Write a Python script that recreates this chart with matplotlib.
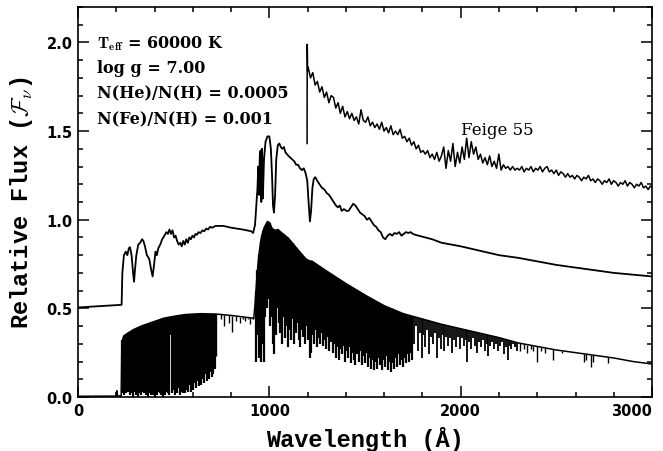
import numpy as np
import matplotlib.pyplot as plt
from matplotlib.ticker import MultipleLocator

# model spectrum continuum (lower curve)
model_wl = [0, 195, 200, 203, 206, 226, 229, 232, 240, 260,
            290, 330, 370, 410, 450, 500, 560, 640, 720, 800,
            860, 912, 918, 925, 935, 945, 955, 965, 975, 990,
            1000, 1015, 1030, 1045, 1060, 1100, 1150, 1190, 1205, 1225,
            1245, 1300, 1400, 1500, 1600, 1700, 1800, 1900, 2000, 2100,
            2200, 2300, 2400, 2500, 2600, 2700, 2800, 2900, 3000]
model_flux = [0.004, 0.005, 0.006, 0.035, 0.006, 0.007, 0.28, 0.32, 0.345, 0.36,
              0.38, 0.40, 0.415, 0.43, 0.445, 0.455, 0.465, 0.47, 0.468, 0.46,
              0.452, 0.445, 0.44, 0.52, 0.68, 0.80, 0.88, 0.93, 0.96, 0.99,
              0.985, 0.95, 0.94, 0.945, 0.93, 0.895, 0.83, 0.78, 0.77, 0.765,
              0.75, 0.71, 0.64, 0.575, 0.515, 0.47, 0.44, 0.41, 0.385, 0.36,
              0.335, 0.305, 0.285, 0.265, 0.25, 0.235, 0.22, 0.20, 0.186]

# absorption lines of the model: wavelength and flux at line bottom
forest1_wl = np.arange(232, 720, 7)
forest1_bottom = [0.02, 0.01, 0.20, 0.02, 0.03, 0.24, 0.01, 0.02, 0.00, 0.03,
                  0.01, 0.02, 0.00, 0.02, 0.01, 0.03, 0.02, 0.30, 0.01, 0.00,
                  0.02, 0.01, 0.03, 0.01, 0.00, 0.02, 0.01, 0.03, 0.02, 0.01,
                  0.00, 0.02, 0.01, 0.03, 0.02, 0.01, 0.35, 0.02, 0.04, 0.01,
                  0.03, 0.02, 0.05, 0.01, 0.03, 0.02, 0.06, 0.02, 0.04, 0.03,
                  0.07, 0.03, 0.05, 0.04, 0.08, 0.05, 0.09, 0.06, 0.11, 0.07,
                  0.10, 0.08, 0.13, 0.09, 0.12, 0.10, 0.14, 0.11, 0.13, 0.16]

sparse1_wl = [722, 745, 763, 790, 806, 826, 845, 860, 874, 888, 900]
sparse1_bottom = [0.23, 0.44, 0.40, 0.42, 0.365, 0.43, 0.42, 0.44, 0.43, 0.44, 0.41]

forest2_wl = np.arange(930, 1750, 8)
forest2_bottom = [0.20, 0.35, 0.22, 0.20, 0.30, 0.20, 0.45, 0.50, 0.55, 0.40,
                  0.45, 0.30, 0.24, 0.35, 0.50, 0.42, 0.36, 0.30, 0.45, 0.33,
                  0.40, 0.28, 0.38, 0.32, 0.44, 0.30, 0.36, 0.42, 0.32, 0.28,
                  0.38, 0.34, 0.30, 0.40, 0.32, 0.22, 0.25, 0.35, 0.30, 0.38,
                  0.28, 0.33, 0.30, 0.36, 0.29, 0.32, 0.27, 0.34, 0.26, 0.31,
                  0.25, 0.30, 0.22, 0.28, 0.21, 0.27, 0.24, 0.29, 0.20, 0.26,
                  0.22, 0.28, 0.19, 0.25, 0.21, 0.18, 0.24, 0.20, 0.26, 0.18,
                  0.23, 0.19, 0.25, 0.17, 0.22, 0.16, 0.21, 0.15, 0.20, 0.16,
                  0.22, 0.18, 0.15, 0.21, 0.17, 0.23, 0.15, 0.20, 0.14, 0.19,
                  0.16, 0.22, 0.17, 0.24, 0.18, 0.21, 0.17, 0.22, 0.19, 0.24,
                  0.20, 0.25, 0.21]

forest3_wl = np.arange(1755, 2300, 10)
forest3_bottom = [0.30, 0.40, 0.26, 0.36, 0.22, 0.35, 0.28, 0.38, 0.24, 0.34,
                  0.30, 0.36, 0.22, 0.33, 0.27, 0.35, 0.26, 0.34, 0.29, 0.33,
                  0.25, 0.32, 0.28, 0.34, 0.27, 0.33, 0.29, 0.32, 0.20, 0.31,
                  0.27, 0.33, 0.29, 0.25, 0.31, 0.28, 0.32, 0.26, 0.30, 0.23,
                  0.29, 0.31, 0.27, 0.30, 0.26, 0.29, 0.31, 0.24, 0.28, 0.21,
                  0.29, 0.27, 0.30, 0.28, 0.26]

sparse2_wl = [2310, 2330, 2345, 2365, 2380, 2397, 2420, 2440, 2481, 2530,
              2644, 2652, 2680, 2690, 2769]
sparse2_bottom = [0.26, 0.27, 0.25, 0.27, 0.26, 0.20, 0.26, 0.25, 0.21, 0.25,
                  0.195, 0.21, 0.17, 0.20, 0.19]

# smoothed model, shifted by +0.5 (middle curve)
mid_wl = [0, 228, 232, 240, 250, 258, 266, 272, 280, 288,
          293, 298, 305, 315, 325, 335, 342, 350, 360, 372,
          382, 390, 397, 405, 412, 420, 430, 440, 452, 462,
          470, 478, 486, 494, 502, 510, 518, 526, 534, 542,
          550, 558, 566, 574, 582, 590, 598, 606, 614, 622,
          630, 640, 650, 660, 670, 680, 690, 700, 720, 760,
          800, 860, 905, 915, 925, 932, 938, 942, 946, 950,
          954, 958, 962, 966, 972, 980, 990, 1000, 1008, 1014,
          1019, 1024, 1030, 1036, 1044, 1052, 1060, 1068, 1076, 1084,
          1092, 1100, 1110, 1120, 1130, 1140, 1150, 1160, 1170, 1180,
          1190, 1198, 1205, 1212, 1218, 1225, 1232, 1240, 1250, 1262,
          1275, 1288, 1300, 1312, 1324, 1336, 1348, 1358, 1368, 1378,
          1390, 1402, 1414, 1426, 1438, 1450, 1462, 1474, 1486, 1498,
          1510, 1522, 1534, 1546, 1558, 1570, 1582, 1594, 1606, 1618,
          1630, 1642, 1654, 1666, 1678, 1690, 1702, 1714, 1726, 1738,
          1750, 1762, 1780, 1800, 1850, 1900, 2000, 2100, 2200, 2300,
          2400, 2500, 2600, 2700, 2800, 2900, 3000]
mid_flux = [0.505, 0.52, 0.70, 0.80, 0.82, 0.80, 0.84, 0.845, 0.80, 0.70,
            0.65, 0.72, 0.80, 0.86, 0.87, 0.89, 0.88, 0.85, 0.80, 0.78,
            0.72, 0.68, 0.74, 0.82, 0.80, 0.84, 0.86, 0.89, 0.91, 0.93,
            0.92, 0.945, 0.92, 0.94, 0.90, 0.91, 0.88, 0.86, 0.87, 0.85,
            0.88, 0.86, 0.89, 0.87, 0.90, 0.89, 0.91, 0.90, 0.92, 0.915,
            0.93, 0.925, 0.94, 0.935, 0.95, 0.945, 0.96, 0.955, 0.965, 0.965,
            0.955, 0.945, 0.935, 0.925, 0.97, 1.08, 1.18, 1.30, 1.14, 1.36,
            1.39, 1.10, 1.40, 1.12, 1.34, 1.44, 1.47, 1.47, 1.40, 1.25,
            1.08, 1.04, 1.14, 1.34, 1.42, 1.43, 1.41, 1.40, 1.41, 1.38,
            1.37, 1.36, 1.35, 1.34, 1.33, 1.31, 1.31, 1.29, 1.28, 1.29,
            1.26, 1.22, 1.10, 0.99, 1.05, 1.18, 1.23, 1.24, 1.22, 1.20,
            1.18, 1.17, 1.15, 1.14, 1.12, 1.10, 1.08, 1.07, 1.08, 1.05,
            1.06, 1.05, 1.05, 1.07, 1.09, 1.08, 1.06, 1.04, 1.03, 1.02,
            1.00, 1.01, 0.99, 0.97, 0.96, 0.94, 0.93, 0.90, 0.89, 0.91,
            0.92, 0.91, 0.925, 0.92, 0.93, 0.91, 0.92, 0.93, 0.925, 0.93,
            0.92, 0.915, 0.91, 0.905, 0.89, 0.87, 0.85, 0.825, 0.80, 0.785,
            0.765, 0.745, 0.73, 0.715, 0.70, 0.69, 0.68]

# observed Feige 55 spectrum (top curve)
feige_wl = np.concatenate([[1197, 1198, 1200], np.arange(1203, 3004, 12)])
feige_flux = [1.43, 1.99, 1.84,
              1.86, 1.80, 1.83, 1.76, 1.78, 1.72, 1.75, 1.69, 1.72, 1.66,
              1.70, 1.69, 1.63, 1.66, 1.60, 1.64, 1.58, 1.61, 1.57, 1.60,
              1.56, 1.58, 1.54, 1.62, 1.56, 1.55, 1.58, 1.53, 1.55, 1.52,
              1.54, 1.51, 1.55, 1.50, 1.52, 1.49, 1.53, 1.48, 1.50, 1.48,
              1.51, 1.46, 1.47, 1.44, 1.46, 1.42, 1.44, 1.40, 1.42, 1.38,
              1.39, 1.37, 1.39, 1.35, 1.37, 1.34, 1.38, 1.33, 1.36, 1.41,
              1.29, 1.39, 1.33, 1.43, 1.30, 1.38, 1.32, 1.41, 1.34, 1.46,
              1.35, 1.44, 1.37, 1.41, 1.34, 1.37, 1.32, 1.35, 1.31, 1.36,
              1.30, 1.33, 1.29, 1.37, 1.28, 1.31, 1.29, 1.30, 1.28, 1.30,
              1.28, 1.29, 1.28, 1.30, 1.27, 1.29, 1.28, 1.30, 1.27, 1.29,
              1.28, 1.30, 1.27, 1.29, 1.30, 1.27, 1.28, 1.26, 1.28, 1.25,
              1.27, 1.26, 1.24, 1.26, 1.24, 1.25, 1.23, 1.25, 1.24, 1.22,
              1.24, 1.23, 1.25, 1.22, 1.23, 1.21, 1.23, 1.22, 1.20, 1.22,
              1.21, 1.23, 1.20, 1.22, 1.21, 1.19, 1.21, 1.20, 1.22, 1.19,
              1.21, 1.20, 1.18, 1.20, 1.19, 1.21, 1.18, 1.19, 1.17, 1.19,
              1.18]

x_ticks = [0, 1000, 2000, 3000]
x_ticklabels = ["0", "1000", "2000", "3000"]

labels = [r"$\mathbf{T_{eff}}$ = 60000 K", "log g = 7.00",
          "N(He)/N(H) = 0.0005", "N(Fe)/N(H) = 0.001"]

plt.rcParams['mathtext.fontset'] = 'cm'

fig = plt.figure(figsize=(6.63, 4.52), dpi=100)
ax = fig.add_axes([0.1176, 0.1195, 0.866, 0.8628])

ax.plot(model_wl, model_flux, color='k', lw=1.1)
for wl, bot, w in [(forest1_wl, forest1_bottom, 1.6), (sparse1_wl, sparse1_bottom, 1.0),
                   (forest2_wl, forest2_bottom, 1.6), (forest3_wl, forest3_bottom, 1.3),
                   (sparse2_wl, sparse2_bottom, 1.0)]:
    top = np.interp(wl, model_wl, model_flux)
    ax.vlines(wl, bot, top, color='k', lw=w)

ax.plot(mid_wl, mid_flux, color='k', lw=1.3)
ax.plot(feige_wl, feige_flux, color='k', lw=1.1)

ax.set_xlim(0, 3000)
ax.set_ylim(0, 2.2)
ax.set_xticks(x_ticks, labels=x_ticklabels)
ax.xaxis.set_minor_locator(MultipleLocator(200))
ax.yaxis.set_major_locator(MultipleLocator(0.5))
ax.yaxis.set_minor_locator(MultipleLocator(0.1))
ax.tick_params(which='both', direction='in', top=True, right=True, width=1.1)
ax.tick_params(which='major', length=8, pad=4)
ax.tick_params(which='minor', length=3.6)
for lab in ax.get_xticklabels() + ax.get_yticklabels():
    lab.set_fontfamily('DejaVu Sans')
    lab.set_fontweight('bold')
    lab.set_fontsize(10.5)
ax.get_xticklabels()[-1].set_horizontalalignment('right')
for s in ax.spines.values():
    s.set_linewidth(1.2)

ax.set_xlabel("Wavelength (Å)", family='Liberation Mono', weight='bold',
              fontsize=17, labelpad=6)
ax.set_ylabel(r"Relative Flux ($\mathcal{F}_\nu$)", family='Liberation Mono',
              weight='bold', fontsize=17, labelpad=8)

for i, t in enumerate(labels):
    ax.text(99, 1.975 - 0.143 * i, t, family='DejaVu Serif', weight='bold',
            fontsize=11.5, va='baseline')
ax.text(2002, 1.483, "Feige 55", family='DejaVu Serif', fontsize=12,
        va='baseline')

fig.savefig("out.png", dpi=100)
